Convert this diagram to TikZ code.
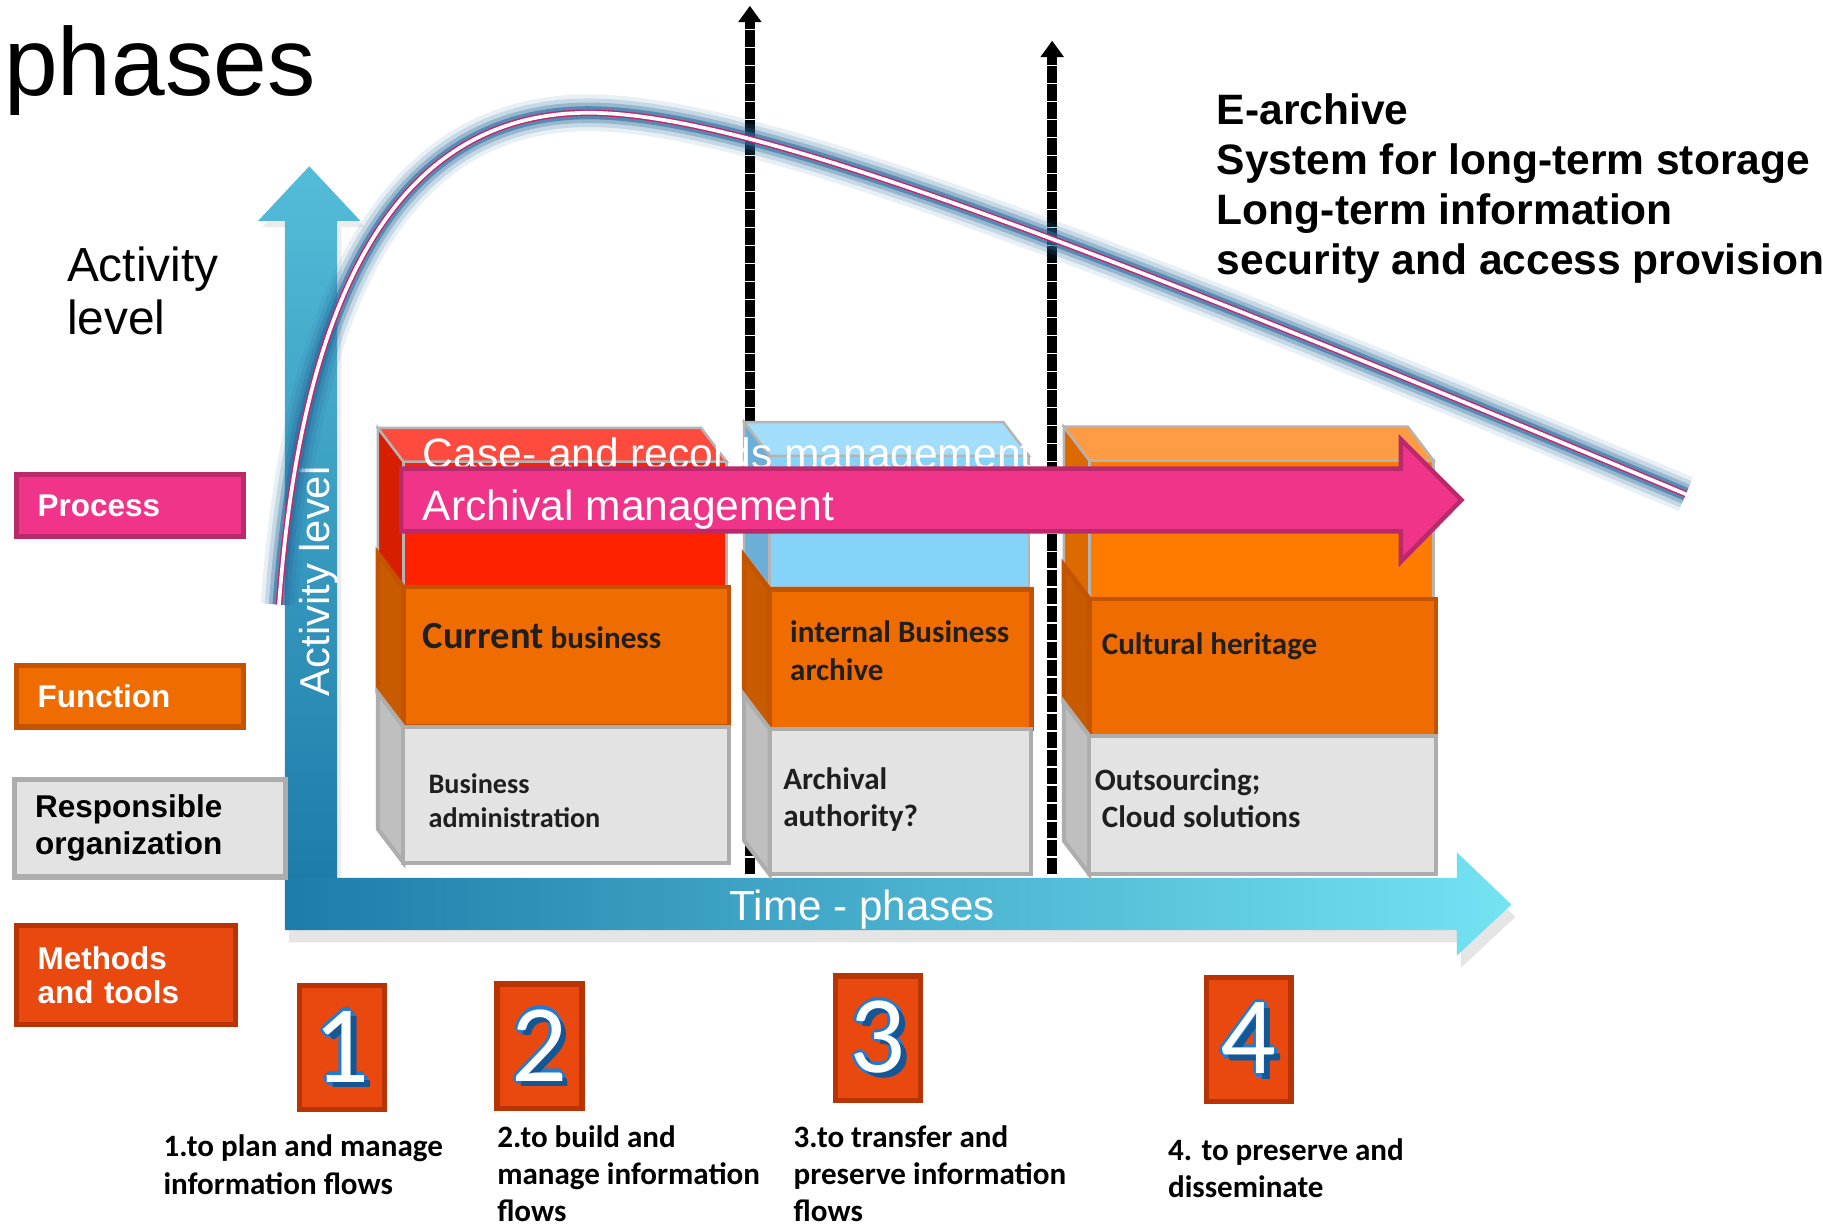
\documentclass[tikz,border=0pt]{standalone}
\usepackage{fontspec}
\setmainfont{Liberation Sans}
\newfontfamily\calibrifont{Carlito}
\usepackage{tikz}
\usetikzlibrary{arrows.meta,positioning,calc,shadows}

\definecolor{procpink}{HTML}{F03489}
\definecolor{procedge}{HTML}{BA2A6B}
\definecolor{funcorange}{HTML}{EE6C00}
\definecolor{funcside}{HTML}{C85A00}
\definecolor{funcedge}{HTML}{C45300}
\definecolor{orggray}{HTML}{E3E3E3}
\definecolor{orgside}{HTML}{BFBFBF}
\definecolor{orgedge}{HTML}{ADADAD}
\definecolor{toolred}{HTML}{E9480E}
\definecolor{tooledge}{HTML}{B83404}
\definecolor{redfront}{HTML}{FF2200}
\definecolor{redside}{HTML}{D61E00}
\definecolor{redtop}{HTML}{FF4B3E}
\definecolor{bluefront}{HTML}{86D3FA}
\definecolor{blueside}{HTML}{6BAFD8}
\definecolor{bluetop}{HTML}{A2DDFB}
\definecolor{amberfront}{HTML}{FF7B00}
\definecolor{amberside}{HTML}{DD6A00}
\definecolor{ambertop}{HTML}{FF9B42}
\definecolor{blockedge}{HTML}{B4B4B4}
\definecolor{axisdark}{HTML}{1E7CA9}
\definecolor{axislight}{HTML}{54BCD8}
\definecolor{axiscyan}{HTML}{74E3F2}
\definecolor{glowblue}{HTML}{2C6C9F}
\definecolor{curvepink}{HTML}{C8246C}
\definecolor{digitblue}{HTML}{1C7CD6}

\newcommand{\bluedigit}[1]{%
  \makebox[0pt][l]{\kern-0.8pt\textcolor{digitblue}{#1}}%
  \makebox[0pt][l]{\kern0.8pt\textcolor{digitblue}{#1}}%
  \makebox[0pt][l]{\raisebox{0.8pt}{\textcolor{digitblue}{#1}}}%
  \makebox[0pt][l]{\raisebox{-0.8pt}{\textcolor{digitblue}{#1}}}%
  \makebox[0pt][l]{\kern1.3pt\raisebox{-1.3pt}{\textcolor{digitblue!70!black}{#1}}}%
  \textcolor{white}{#1}}

\begin{document}
\begin{tikzpicture}[x=0.01cm, y=-0.01cm,
  legendbox/.style={draw, line width=1.3pt, inner ysep=0pt, inner xsep=0.18cm,
    align=left, anchor=north west, text=white,
    font=\bfseries\fontsize{7.7}{9.1}\selectfont},
  blocktxt/.style={anchor=base west, inner sep=0pt, align=left, text=black!88,
    font=\calibrifont\bfseries\fontsize{7.6}{9.1}\selectfont},
  steptxt/.style={blocktxt, text=black},
  numbox/.style={draw=tooledge, fill=toolred, line width=1.3pt, minimum width=0.73cm,
    minimum height=1.07cm, inner sep=0pt, font=\calibrifont\fontsize{27}{27}\selectfont},
  limit/.style={line width=2.6pt, dash pattern=on 4pt off 0.4pt,
    -{Triangle[width=5.5pt,length=4pt]}},
  whitetxt/.style={anchor=base west, inner sep=0pt, text=white,
    font=\fontsize{10.4}{12}\selectfont},
  ]
  \useasboundingbox (0,0) rectangle (1568,1053);
  \fill[white] (0,0) rectangle (1568,1053);

  % title and axis caption
  \node[anchor=base west, inner sep=0pt, font=\fontsize{23.6}{26}\selectfont]
    (title) at (3,82) {phases};
  \node[anchor=base west, inner sep=0pt, align=left, font=\fontsize{11.7}{13.1}\selectfont]
    (actcap) at (57,288) {Activity\\level};

  % axes
  \shade[top color=axislight, bottom color=axisdark,
    drop shadow={opacity=0.15, shadow xshift=1pt, shadow yshift=-1.5pt}]
    (245,755) -- (245,190) -- (222,190) -- (266,143) -- (310,190) -- (290,190)
    -- (290,755) -- cycle;
  \shade[left color=axisdark, right color=axiscyan,
    drop shadow={opacity=0.2, shadow xshift=1pt, shadow yshift=-3pt}]
    (245,755) -- (1253,755) -- (1253,733) -- (1300,778) -- (1253,822) -- (1253,800)
    -- (245,800) -- cycle;
  \node[whitetxt, font=\fontsize{10.3}{12}\selectfont] (time) at (627,792) {Time - phases};

  % phase limits
  \coordinate (lim1 bot) at (645,752);
  \coordinate (lim1 top) at (645,5);
  \coordinate (lim2 bot) at (905,752);
  \coordinate (lim2 top) at (905,35);
  \draw[limit] (lim1 bot) -- (lim1 top);
  \draw[limit] (lim2 bot) -- (lim2 top);

  % blocks: side and front faces
  \foreach \xl/\xr/\ya/\yb/\fc/\sc/\ec/\lw in {
      325/625/397/505/redfront/redside/blockedge/0.6,
      325/627/505/625/funcorange/funcside/funcedge/1.1,
      325/627/625/742/orggray/orgside/orgedge/1.0,
      640/885/392/505/bluefront/blueside/blockedge/0.6,
      640/887/507/627/funcorange/funcside/funcedge/1.1,
      640/887/627/752/orggray/orgside/orgedge/1.0,
      915/1233/396/515/amberfront/amberside/blockedge/0.6,
      915/1235/515/633/funcorange/funcside/funcedge/1.1,
      915/1235/633/752/orggray/orgside/orgedge/1.0}
  {
    \filldraw[fill=\sc, draw=\ec, line width=\lw pt]
      (\xl,\ya-29) -- (\xl+22,\ya) -- (\xl+22,\yb) -- (\xl,\yb-29) -- cycle;
    \filldraw[fill=\fc, draw=\ec, line width=\lw pt] (\xl+22,\ya) rectangle (\xr,\yb);
  }
  % blocks: top faces
  \foreach \xl/\xr/\ya/\tc in {325/625/397/redtop, 640/885/392/bluetop, 915/1233/396/ambertop}
    \filldraw[fill=\tc, draw=blockedge, line width=0.6pt]
      (\xl,\ya-29) -- (\xr-22,\ya-29) -- (\xr,\ya) -- (\xl+22,\ya) -- cycle;

  \node[blocktxt] (current) at (363,558)
    {{\fontsize{9.4}{9.4}\selectfont Current} business};
  \node[blocktxt] (internal) at (679,585) {internal Business\\archive};
  \node[blocktxt] (heritage) at (947,563) {Cultural heritage};
  \node[blocktxt, font=\calibrifont\bfseries\fontsize{6.9}{8.3}\selectfont]
    (bizadmin) at (368,712) {Business\\administration};
  \node[blocktxt] (authority) at (673,711) {Archival\\authority?};
  \node[blocktxt] (outsourcing) at (941,712) {Outsourcing;\\\hspace*{0.06cm}Cloud solutions};

  \node[whitetxt] (casemgmt) at (363,403) {Case- and records management};

  % process arrow
  \filldraw[fill=procpink, draw=procedge, line width=1.1pt]
    (345,403) -- (1205,403) -- (1205,378) -- (1257,430) -- (1205,483) -- (1205,457)
    -- (345,457) -- cycle;
  \node[whitetxt] (archmgmt) at (363,448) {Archival management};

  \node[rotate=90, text=white, inner sep=0pt, font=\fontsize{10.2}{12}\selectfont]
    (axislabel) at (274,500) {Activity level};

  % activity curve
  \draw[white, line width=0.9pt, line cap=round,
    preaction={draw=glowblue, line width=9pt, opacity=0.1},
    preaction={draw=glowblue, line width=7pt, opacity=0.18},
    preaction={draw=glowblue, line width=5pt, opacity=0.3},
    preaction={draw=glowblue, line width=3.2pt, opacity=0.6},
    preaction={draw=curvepink, line width=1.6pt}]
    (240,520) .. controls (262,220) and (360,95) .. (510,97)
    .. controls (640,99) and (900,195) .. (1450,425);

  \node[anchor=base west, inner sep=0pt, align=left,
    font=\bfseries\fontsize{10.4}{12.2}\selectfont] (earchive) at (1046,236)
    {E-archive\\System for long-term storage\\Long-term information\\security and access provision};

  % legend
  \node[legendbox, fill=procpink, draw=procedge, minimum width=1.95cm,
    minimum height=0.53cm, text width=1.59cm] (process) at (12,406) {Process};
  \node[legendbox, fill=funcorange, draw=funcedge, minimum width=1.95cm,
    minimum height=0.53cm, text width=1.59cm] (function) at (12,570) {Function};
  \node[legendbox, fill=orggray, draw=orgedge, text=black, minimum width=2.33cm,
    minimum height=0.84cm, text width=1.97cm] (respons) at (10,668) {Responsible\\organization};
  \node[legendbox, fill=toolred, draw=tooledge, minimum width=1.88cm,
    minimum height=0.85cm, text width=1.52cm,
    font=\bfseries\fontsize{7.7}{8.5}\selectfont] (methods) at (12,794) {Methods\\and tools};

  % phase numbers
  \node[numbox] (step1) at (294,901) {\bluedigit{1}};
  \node[numbox] (step2) at (464,900) {\bluedigit{2}};
  \node[numbox] (step3) at (755,893) {\bluedigit{3}};
  \node[numbox] (step4) at (1074,894) {\bluedigit{4}};

  \node[steptxt] (plan) at (140,1027) {1.to plan and manage\\information flows};
  \node[steptxt] (build) at (427,1051) {2.to build and\\manage information\\flows};
  \node[steptxt] (transfer) at (682,1051) {3.to transfer and\\preserve information\\flows};
  \node[steptxt] (preserve) at (1004,1030) {4. to preserve and\\disseminate};
\end{tikzpicture}
\end{document}
